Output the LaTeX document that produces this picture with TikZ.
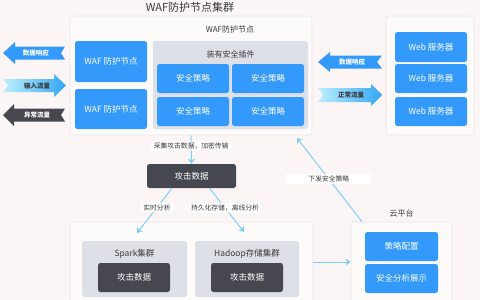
\documentclass[tikz,border=0pt]{standalone}
\usepackage{fontspec}
\setmainfont{Noto Sans CJK SC}
\usetikzlibrary{arrows.meta,calc}
\definecolor{bgc}{HTML}{FCF5F5}
\definecolor{panel}{HTML}{FDFAFA}
\definecolor{panelline}{HTML}{EBE5E5}
\definecolor{blu}{HTML}{3399FA}
\definecolor{gry}{HTML}{DDE0E6}
\definecolor{drk}{HTML}{46474F}
\definecolor{cn}{HTML}{80CFF5}
\definecolor{txt}{HTML}{3A3A3A}
\definecolor{gl}{HTML}{BDEFFC}
\definecolor{gr}{HTML}{33A6F5}
\begin{document}
\begin{tikzpicture}[x=1pt,y=-1pt,
  sz/.style 2 args={minimum width=#1,minimum height=#2,inner sep=0pt},
  panelbox/.style={draw=panelline,fill=panel,rounded corners=3pt,line width=0.6pt},
  bluebox/.style={fill=blu,rounded corners=2.5pt,text=white,font=\fontsize{8.5}{9}\selectfont},
  darkbox/.style={fill=drk,rounded corners=2.5pt,text=white,font=\fontsize{8.5}{9}\selectfont},
  greybox/.style={fill=gry,rounded corners=2.5pt},
  ttl/.style={text=txt,inner sep=0pt},
  arrtxt/.style={inner sep=0pt,font=\fontsize{6.5}{7}\selectfont\bfseries},
  lbl/.style={fill=white,rounded corners=2pt,text=txt,inner xsep=3pt,inner ysep=1.5pt,font=\fontsize{6.8}{7}\selectfont},
  conn/.style={draw=cn,line width=1pt,-{Stealth[length=5pt,width=7pt,inset=1.5pt]}}
]
\useasboundingbox (0,0) rectangle (480,300);
\clip (0,0) rectangle (480,300);
\fill[bgc] (0,0) rectangle (480,300);

% WAF cluster
\node[ttl,font=\fontsize{11}{12}\selectfont] (title) at (190,7) {WAF防护节点集群};
\node[panelbox,sz={242pt}{119pt}] (wafout) at (191,75.5) {};
\node[ttl,font=\fontsize{8}{9}\selectfont] (wafsub) at (230,29) {WAF防护节点};
\node[bluebox,sz={72pt}{41pt}] (waf1) at (111,61.5) {WAF 防护节点};
\node[bluebox,sz={72pt}{40pt}] (waf2) at (111,109) {WAF 防护节点};
\node[greybox,sz={155pt}{88pt}] (plug) at (230.5,85) {};
\node[ttl,font=\fontsize{8}{9}\selectfont] (plugt) at (230.5,54) {装有安全插件};
\node[bluebox,sz={72pt}{29pt}] (p1) at (193,78.5) {安全策略};
\node[bluebox,sz={72pt}{29pt}] (p2) at (268,78.5) {安全策略};
\node[bluebox,sz={72pt}{29pt}] (p3) at (193,111.5) {安全策略};
\node[bluebox,sz={72pt}{29pt}] (p4) at (268,111.5) {安全策略};

% Web servers
\node[panelbox,sz={88pt}{119pt}] (webout) at (430,75.5) {};
\node[bluebox,sz={72pt}{30pt}] (w1) at (431,47) {Web 服务器};
\node[bluebox,sz={72pt}{29pt}] (w2) at (431,78.5) {Web 服务器};
\node[bluebox,sz={72pt}{29pt}] (w3) at (431,111.5) {Web 服务器};

% left arrows
\fill[blu] (3,53) -- (15,42) -- (15,46.5) -- (65,46.5) -- (61,53) -- (65,59.5) -- (15,59.5) -- (15,64) -- cycle;
\node[arrtxt,text=white] (lresp) at (36,53) {数据响应};
\shade[left color=gl,right color=gr] (3,79) -- (54,79) -- (54,74) -- (66,85.5) -- (54,97) -- (54,92) -- (3,92) -- (8,85.5) -- cycle;
\node[arrtxt,text=txt] (lin) at (37,85.5) {输入流量};
\fill[drk] (3,115) -- (14,104) -- (14,108.5) -- (65,108.5) -- (61,115) -- (65,121.5) -- (14,121.5) -- (14,126) -- cycle;
\node[arrtxt,text=white] (lab) at (37,115) {异常流量};

% middle arrows
\fill[blu] (318,62) -- (330,52) -- (330,55.5) -- (382,55.5) -- (377,62) -- (382,68.5) -- (330,68.5) -- (330,72) -- cycle;
\node[arrtxt,text=white] (mresp) at (352,62) {数据响应};
\shade[left color=gl,right color=gr] (318,88) -- (371,88) -- (371,84) -- (382,95) -- (371,106) -- (371,102) -- (318,102) -- (323,95) -- cycle;
\node[arrtxt,text=txt] (mnorm) at (351,95) {正常流量};

% attack data
\node[darkbox,sz={89pt}{24pt}] (attack) at (191.5,176) {攻击数据};

% bottom cluster
\node[panelbox,sz={243pt}{80pt}] (botout) at (191.5,262) {};
\node[greybox,sz={105pt}{56pt}] (spark) at (134.5,269) {};
\node[ttl,font=\fontsize{8.5}{9}\selectfont] (sparkt) at (134.5,254) {Spark集群};
\node[darkbox,sz={72pt}{29pt}] (sparkd) at (134,277.5) {攻击数据};
\node[greybox,sz={104pt}{56pt}] (hadoop) at (247,269) {};
\node[ttl,font=\fontsize{8.5}{9}\selectfont] (hadoopt) at (247,254) {Hadoop存储集群};
\node[darkbox,sz={72pt}{29pt}] (hadoopd) at (247,277.5) {攻击数据};

% cloud platform
\node[ttl,font=\fontsize{8}{9}\selectfont] (cloudt) at (401.5,213) {云平台};
\node[panelbox,sz={101pt}{80pt}] (cloud) at (401.5,262) {};
\node[bluebox,sz={73pt}{29pt}] (c1) at (401.5,246.5) {策略配置};
\node[bluebox,sz={73pt}{29pt}] (c2) at (401.5,278.5) {安全分析展示};

% connectors
\coordinate (sparkin) at (137,233);
\coordinate (hadoopin) at (244,232);
\coordinate (wafin) at (297,138);
\draw[conn] (wafout.south) -- (attack.north) node[lbl,pos=0.36] (l1) {采集攻击数据，加密传输};
\draw[conn] ([xshift=-19.5pt]attack.south) -- (sparkin) node[lbl,pos=0.43] (l2) {实时分析};
\draw[conn] ([xshift=18pt]attack.south) -- (hadoopin) node[lbl,pos=0.45] (l3) {持久化存储，离线分析};
\draw[conn] (botout.east) -- (cloud.west);
\draw[conn] ([xshift=-39.5pt]cloud.north) -- (wafin) node[lbl,pos=0.51,minimum width=85pt,rounded corners=0pt] (l4) {下发安全策略};
\end{tikzpicture}
\end{document}
